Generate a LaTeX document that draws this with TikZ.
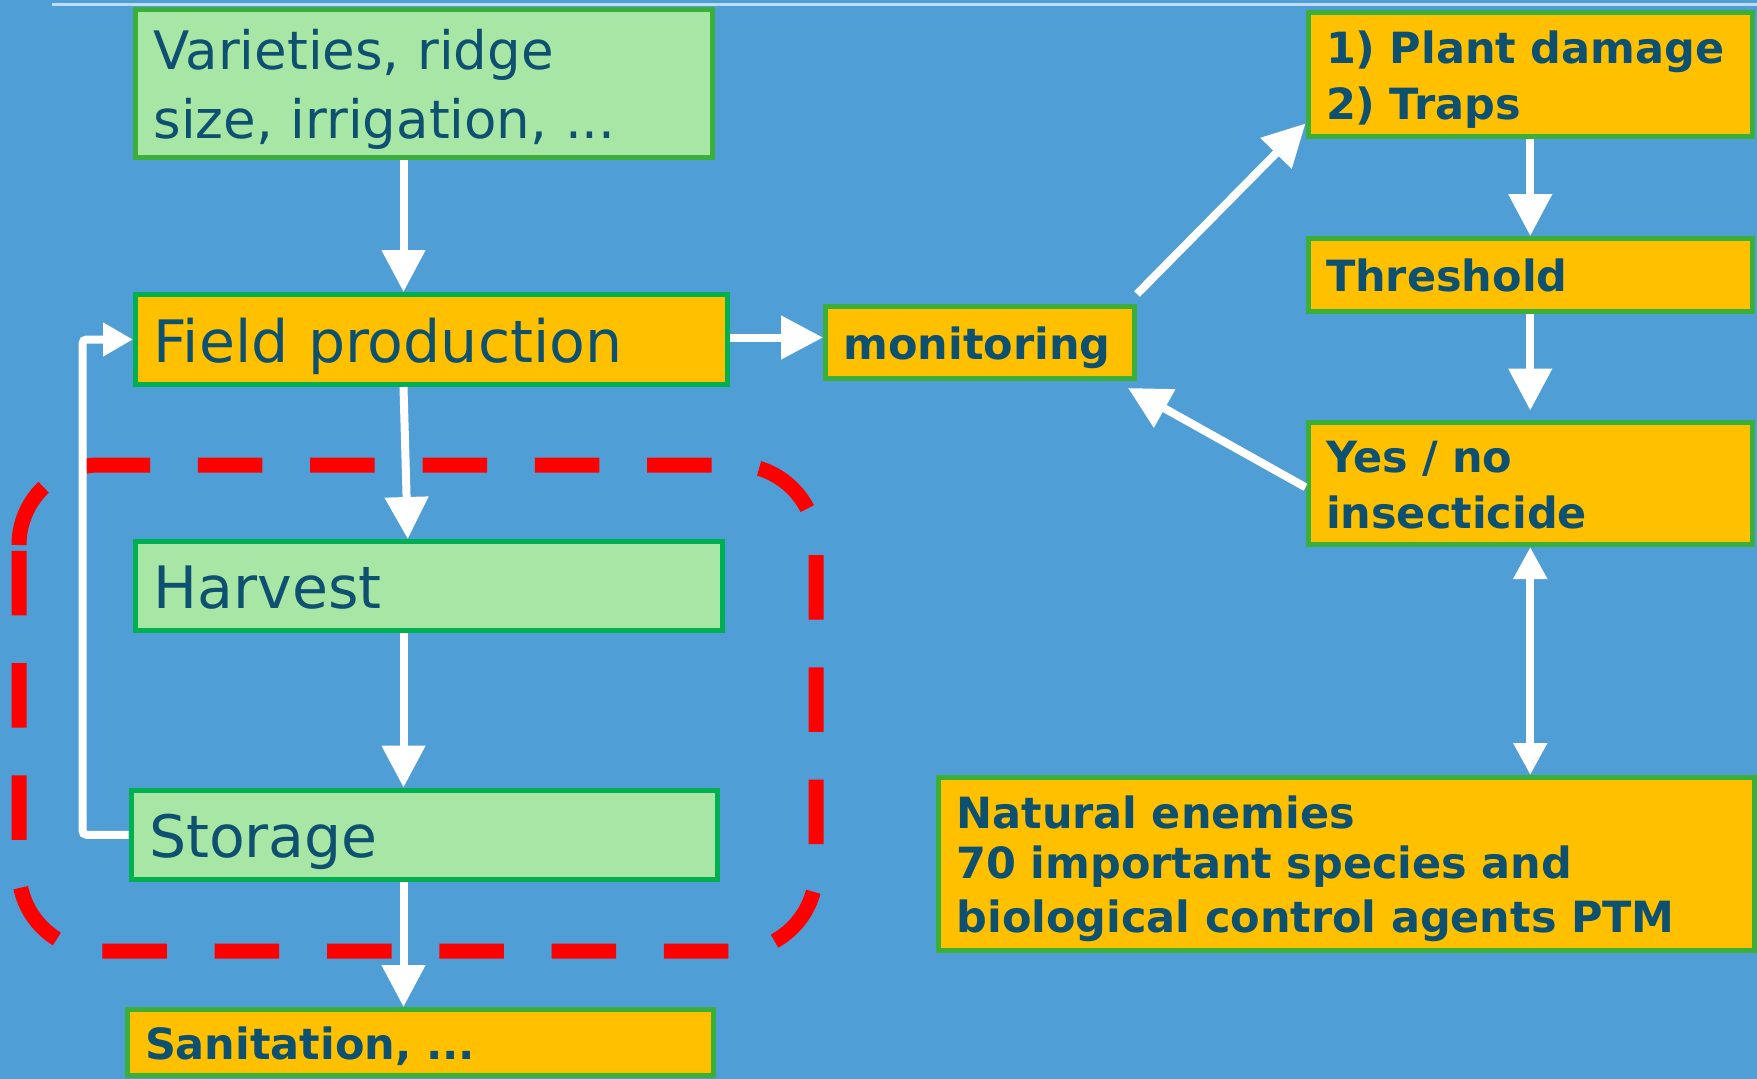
\documentclass[tikz,border=0pt]{standalone}
\usepackage{fontspec}
\setmainfont{DejaVu Sans}
\usetikzlibrary{arrows.meta,positioning}
\definecolor{slideblue}{RGB}{80,158,214}
\definecolor{leafgreen}{RGB}{168,230,166}
\definecolor{edgegreen}{RGB}{58,176,58}
\definecolor{fieldgreen}{RGB}{0,176,80}
\definecolor{tuberamber}{RGB}{255,192,0}
\definecolor{inkblue}{RGB}{14,80,112}
\definecolor{ruleblue}{RGB}{190,220,245}
\newcommand{\boxstrut}{\rule[-0.25em]{0pt}{1.28em}}

\begin{document}
\begin{tikzpicture}[
  x=1pt, y=-1pt,
  box/.style={draw=edgegreen, line width=5pt, fill=tuberamber, text=inkblue, align=left, inner xsep=18pt, inner ysep=4pt, execute at begin node=\boxstrut, execute at end node=\boxstrut},
  stage/.style={box, draw=fieldgreen, fill=leafgreen, font=\fontsize{58.5}{70}\selectfont},
  pest/.style={box, font=\fontsize{43}{50}\selectfont\bfseries},
  arr/.style={-{Triangle[length=42pt,width=42pt]}, line width=8pt, white},
  dbl/.style={{Triangle[length=32pt,width=32pt]}-{Triangle[length=32pt,width=32pt]}, line width=8pt, white},
  back/.style={-{Triangle[length=30pt,width=32pt]}, line width=8pt, white, rounded corners=4pt},
  dashframe/.style={red, line width=15pt, rounded corners=80pt, dash pattern=on 64.5pt off 47.8pt},
]
\useasboundingbox (0,0) rectangle (1757,1079);
\fill[slideblue] (0,0) rectangle (1757,1079);
\draw[ruleblue, line width=3pt] (52,4) -- (1757,4);

% field and storage chain
\draw[dashframe] (19,545) -- (19,465) -- (816,465) -- (816,951) -- (19,951) -- (19,545);

\node[stage, draw=edgegreen, font=\fontsize{53}{63}\selectfont, text width=541pt, minimum width=577pt, minimum height=148pt] (var) at (424,83.5) {Varieties, ridge\\size, irrigation, ...};
\node[stage, fill=tuberamber, text width=556pt, minimum width=592pt, minimum height=90pt] (field) at (431.5,339.5) {Field production};
\node[stage, text width=550.5pt, minimum width=586.5pt, minimum height=89pt] (harv) at (428.75,586) {Harvest};
\node[stage, text width=550.5pt, minimum width=586.5pt, minimum height=89.5pt] (stor) at (424.25,834.75) {Storage};
\node[pest, text width=550.5pt, minimum width=586.5pt, minimum height=66pt] (san) at (420.25,1042.5) {Sanitation, ...};

% monitoring loop
\node[pest, text width=273pt, minimum width=309pt, minimum height=72pt] (mon) at (980,342.5) {monitoring};
\node[pest, text width=408.5pt, minimum width=444.5pt, minimum height=123.5pt] (dmg) at (1530.25,74.25) {1) Plant damage\\2) Traps};
\node[pest, text width=408.5pt, minimum width=444.5pt, minimum height=72.5pt, below=97.5pt of dmg] (thr) {Threshold};
\node[pest, text width=408.5pt, minimum width=444.5pt, minimum height=122.5pt, below=106pt of thr] (yes) {Yes / no\\insecticide};
\node[pest, text width=780pt, minimum width=816pt, minimum height=173pt] (nat) at (1346.5,864) {Natural enemies\\70 important species and\\biological control agents PTM};

\coordinate (col) at (403.5,0);
\draw[arr] (var.south -| col) -- (field.north -| col);
\draw[arr] ([xshift=-28pt]field.south) -- ([xshift=-21pt]harv.north);
\draw[arr] (harv.south -| col) -- (stor.north -| col);
\draw[arr] (stor.south -| col) -- (san.north -| col);
\draw[back] (stor.west) -- ++(-46,0) |- (field.west);

\draw[arr] ([yshift=2pt]field.east) -- ([yshift=2pt]field.east -| mon.west);
\draw[arr] ([yshift=10pt]mon.north east) -- ([yshift=15pt]dmg.south west);
\draw[arr] (dmg) -- (thr);
\draw[arr, shorten >=9pt] (thr) -- (yes);
\draw[arr] ([yshift=-4pt]yes.west) -- ([shift={(-9pt,-7pt)}]mon.south east);
\draw[dbl] (yes.south) -- (yes.south |- nat.north);
\end{tikzpicture}
\end{document}
